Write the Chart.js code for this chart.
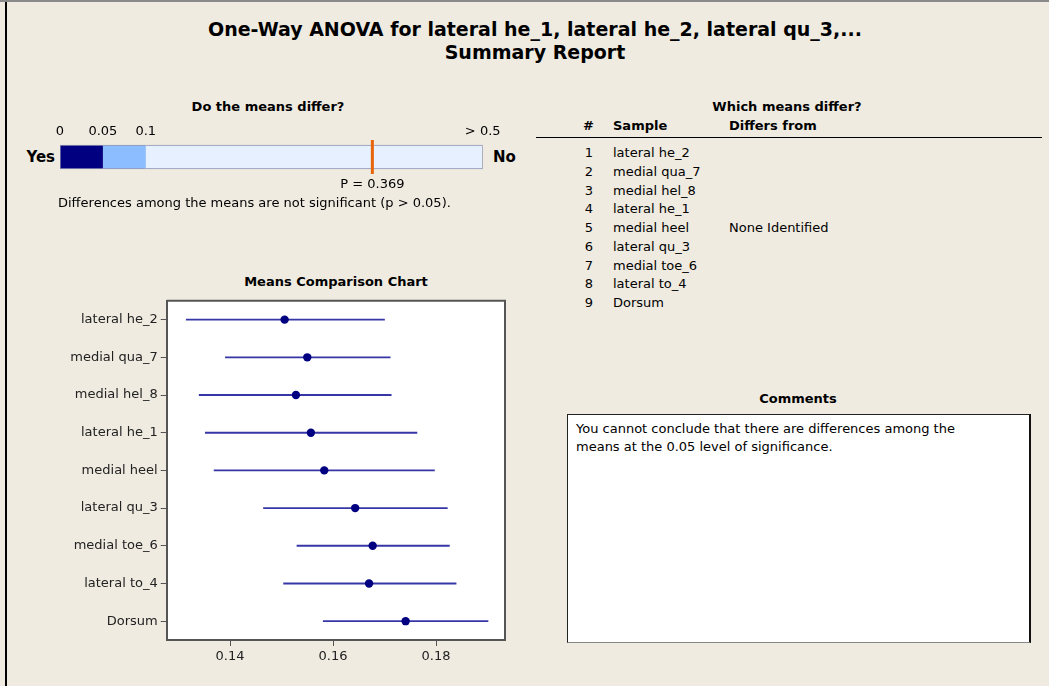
<!DOCTYPE html>
<html>
<head>
<meta charset="utf-8">
<script src="https://cdn.jsdelivr.net/npm/chart.js@4.4.1/dist/chart.umd.min.js"></script>
<style>
body { margin: 0; background: #fff; }
#page { position: relative; width: 1049px; height: 686px; background: #EFEBE1; overflow: hidden;
        font-family: "DejaVu Sans", sans-serif; font-size: 13px; color: #000; }
.abs { position: absolute; white-space: nowrap; }
.hdr { font-weight: bold; font-size: 13px; text-align: center; line-height: 15px; }
#title { left: 0; width: 1070px; top: 18px; text-align: center; font-weight: bold; font-size: 19px; line-height: 23px; }
#topline { left: 0; top: 0; width: 1049px; height: 2px; background: #8a8a8a; }
#leftline { left: 5px; top: 2px; width: 2px; height: 684px; background: #000; }
#tbl div { position: absolute; white-space: nowrap; line-height: 16px; }
#comments { left: 567px; top: 414px; width: 453px; height: 222px; background: #fff; border: 1px solid #222;
            border-bottom-color: #888; border-right: 2px solid #111; padding: 5px 0 0 8px; line-height: 18px; }
</style>
</head>
<body>
<div id="page">
  <div class="abs" id="topline"></div>
  <div class="abs" id="leftline"></div>
  <div class="abs" id="title">One-Way ANOVA for lateral he_1, lateral he_2, lateral qu_3,...<br>Summary Report</div>

  <div class="abs hdr" style="left:118px;width:300px;top:99px;">Do the means differ?</div>
  <div class="abs" style="right:994px;top:148px;font-weight:bold;font-size:15px;">Yes</div>
  <div class="abs" style="left:493px;top:148px;font-weight:bold;font-size:15px;">No</div>
  <canvas id="pChart" class="abs" style="left:40px;top:115px;" width="500" height="85"></canvas>
  <div class="abs" id="pNote" style="left:58px;top:195px;"></div>

  <div class="abs hdr" style="left:637px;width:300px;top:99px;">Which means differ?</div>
  <div class="abs" id="tbl" style="left:0;top:0;"></div>
  <div class="abs" style="left:536px;top:137px;width:506px;height:1px;background:#000;"></div>

  <div class="abs hdr" style="left:186px;width:300px;top:274px;">Means Comparison Chart</div>
  <canvas id="meansChart" class="abs" style="left:20px;top:290px;" width="495" height="390"></canvas>

  <div class="abs hdr" style="left:648px;width:300px;top:391px;">Comments</div>
  <div class="abs" id="comments"></div>
</div>

<script>
// p-value bar
const pValue = 0.369;
const pTickVals = [0, 0.05, 0.1, 0.5];
const pTickLabels = ['0', '0.05', '0.1', '> 0.5'];
const pNote = 'Differences among the means are not significant (p > 0.05).';

// means comparison
const categories = ['lateral he_2', 'medial qua_7', 'medial hel_8', 'lateral he_1', 'medial heel',
                    'lateral qu_3', 'medial toe_6', 'lateral to_4', 'Dorsum'];
const means  = [0.1506, 0.1550, 0.1528, 0.1557, 0.1583, 0.1643, 0.1677, 0.1670, 0.1741];
const ciLow  = [0.1315, 0.1391, 0.1340, 0.1352, 0.1369, 0.1465, 0.1530, 0.1504, 0.1581];
const ciHigh = [0.1700, 0.1711, 0.1713, 0.1763, 0.1797, 0.1822, 0.1826, 0.1839, 0.1901];
const xTicks = [0.14, 0.16, 0.18];

// table + comments
const tableHeaders = ['#', 'Sample', 'Differs from'];
const differsFrom = 'None Identified';
const comments = 'You cannot conclude that there are differences among the<br>means at the 0.05 level of significance.';

const FONT = 'DejaVu Sans';

// the p scale is 0..0.1 on the first fifth, 0.1..0.5 on the rest
function pPos(p) {
    if (p <= 0.1) return p / 0.1 * 0.203;
    return 0.203 + (Math.min(p, 0.5) - 0.1) / 0.4 * 0.797;
}

document.getElementById('pNote').textContent = pNote;
document.getElementById('comments').innerHTML = comments;

// table
const tbl = document.getElementById('tbl');
let html = '';
const hs = 'top:118px;font-weight:bold;';
html += '<div style="left:583px;width:10px;text-align:right;' + hs + '">' + tableHeaders[0] + '</div>';
html += '<div style="left:613px;' + hs + '">' + tableHeaders[1] + '</div>';
html += '<div style="left:729px;' + hs + '">' + tableHeaders[2] + '</div>';
categories.forEach((c, i) => {
    const top = 145.3 + 18.7 * i;
    html += '<div style="left:563px;width:30px;text-align:right;top:' + top + 'px;">' + (i + 1) + '</div>';
    html += '<div style="left:613px;top:' + top + 'px;">' + c + '</div>';
    if (i === 4) html += '<div style="left:729px;top:' + top + 'px;">' + differsFrom + '</div>';
});
tbl.innerHTML = html;

// Do the means differ? bar
const segColors = ['#000080', '#8CBEFF', '#E6F0FF'];
const segRanges = [[pPos(0), pPos(0.05)], [pPos(0.05), pPos(0.1)], [pPos(0.1), pPos(0.5)]];
const pLabelPlugin = {
    id: 'pLabel',
    afterDraw(chart) {
        const ctx = chart.ctx;
        const x = chart.scales.x.getPixelForValue(pPos(pValue));
        ctx.save();
        ctx.font = '13px "' + FONT + '"';
        ctx.fillStyle = '#000';
        ctx.textAlign = 'center';
        ctx.textBaseline = 'middle';
        ctx.fillText('P = ' + pValue, x, chart.chartArea.bottom + 11);
        ctx.restore();
    }
};
new Chart(document.getElementById('pChart'), {
    type: 'bar',
    data: {
        labels: ['p'],
        datasets: segRanges.map((r, i) => ({
            data: [r],
            backgroundColor: segColors[i],
            borderColor: '#9096B4',
            borderWidth: { top: 1, bottom: 1, left: i === 0 ? 1 : 0, right: i === 2 ? 1 : 0 },
            borderSkipped: false,
            barThickness: 24,
            grouped: false,
            order: 2
        })).concat([{
            type: 'line',
            data: [pPos(pValue)],
            showLine: false,
            pointStyle: 'line',
            rotation: 90,
            pointRadius: 17,
            pointBorderWidth: 3,
            pointBorderColor: '#E8650A',
            order: 0
        }])
    },
    options: {
        indexAxis: 'y',
        responsive: false,
        animation: false,
        events: [],
        layout: { padding: { left: 18.3, right: 57.3, top: 0, bottom: 26 } },
        plugins: { legend: { display: false }, tooltip: { enabled: false } },
        scales: {
            x: {
                position: 'top', min: 0, max: 1,
                grid: { display: false, drawTicks: false }, border: { display: false },
                afterBuildTicks: s => { s.ticks = pTickVals.map(v => ({ value: pPos(v) })); },
                afterFit: s => { s.height = 25; },
                ticks: {
                    autoSkip: false, maxRotation: 0, padding: 1, color: '#000',
                    font: { family: FONT, size: 13 },
                    callback: (v, i) => pTickLabels[i]
                }
            },
            y: { display: false }
        }
    },
    plugins: [pLabelPlugin]
});

// Means Comparison Chart
const frame = {
    id: 'frame',
    beforeDraw(chart) {
        const a = chart.chartArea, ctx = chart.ctx;
        ctx.save();
        ctx.fillStyle = '#fff';
        ctx.fillRect(a.left, a.top, a.right - a.left, a.bottom - a.top);
        ctx.restore();
    },
    afterDraw(chart) {
        const a = chart.chartArea, ctx = chart.ctx;
        ctx.save();
        ctx.strokeStyle = '#555';
        ctx.lineWidth = 2;
        ctx.beginPath();
        ctx.moveTo(a.left, a.top);
        ctx.lineTo(a.right, a.top);
        ctx.lineTo(a.right, a.bottom);
        ctx.stroke();
        ctx.restore();
    }
};
new Chart(document.getElementById('meansChart'), {
    type: 'bar',
    data: {
        labels: categories,
        datasets: [{
            data: ciLow.map((l, i) => [l, ciHigh[i]]),
            backgroundColor: '#3636A6',
            barThickness: 1.2,
            borderWidth: 0,
            order: 2
        }, {
            type: 'line',
            data: means,
            showLine: false,
            pointRadius: 4.2,
            pointBorderWidth: 0,
            pointBackgroundColor: '#000080',
            pointBorderColor: '#000080',
            order: 0
        }]
    },
    options: {
        indexAxis: 'y',
        responsive: false,
        animation: false,
        events: [],
        layout: { padding: { left: 0, right: 10, top: 10, bottom: 0 } },
        plugins: { legend: { display: false }, tooltip: { enabled: false } },
        scales: {
            x: {
                min: 0.1277, max: 0.1934,
                afterBuildTicks: s => { s.ticks = xTicks.map(v => ({ value: v })); },
                afterFit: s => { s.height = 40; },
                grid: { drawOnChartArea: false, tickLength: 6, color: '#555' },
                border: { color: '#555', width: 2 },
                ticks: {
                    padding: 3, color: '#222', maxRotation: 0,
                    font: { family: FONT, size: 13 },
                    callback: v => v.toFixed(2)
                }
            },
            y: {
                afterFit: s => { s.width = 146.7; },
                grid: { drawOnChartArea: false, offset: false, tickLength: 6, color: '#555' },
                border: { color: '#555', width: 2 },
                ticks: { padding: 3, color: '#222', font: { family: FONT, size: 13 } }
            }
        }
    },
    plugins: [frame]
});
</script>
</body>
</html>
